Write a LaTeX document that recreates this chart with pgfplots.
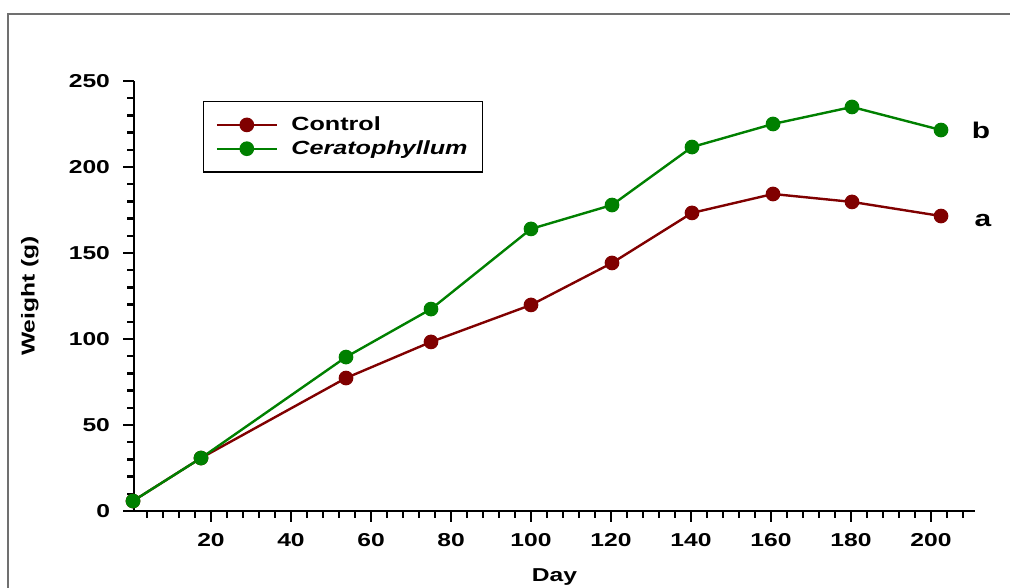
\documentclass[border=0pt]{standalone}
\usepackage{fontspec}
\setmainfont{Liberation Sans}[FakeStretch=1.32]
\usepackage{pgfplots}
\pgfplotsset{compat=1.18}
\definecolor{ctrl}{RGB}{128,0,0}
\definecolor{cera}{RGB}{0,128,0}
\definecolor{frame}{RGB}{112,112,112}
\begin{document}
\begin{tikzpicture}
\useasboundingbox (0,0) rectangle (757.5pt,441pt);
\draw[frame, line width=1.5pt] (6pt,-10pt) -- (6pt,430.5pt) -- (770pt,430.5pt);
\begin{axis}[
  at={(100.5pt,57.75pt)}, anchor=south west,
  scale only axis, width=630.75pt, height=322.5pt,
  xmin=0.75, xmax=211, ymin=0, ymax=250,
  axis lines*=left,
  axis line style={line width=2pt},
  every tick/.style={black, line width=1.8pt},
  tick align=outside,
  major tick length=8pt, minor tick length=5pt,
  xtick={20,40,...,200}, ytick={0,50,...,250},
  minor xtick={4,8,...,208}, minor ytick={10,20,...,240},
  /pgf/number format/assume math mode=true,
  tick label style={font=\fontsize{14}{16}\selectfont\bfseries},
  xticklabel style={yshift=-5pt},
  yticklabel style={xshift=-6.5pt},
  label style={font=\fontsize{14}{16}\selectfont\bfseries},
  xlabel={Day}, ylabel={Weight (g)},
  xlabel style={at={(axis description cs:0.5,-0.1535)}, anchor=center},
  ylabel style={at={(axis description cs:-0.1237,0.5)}, anchor=center},
  clip=false,
  legend style={at={(axis description cs:0.082,0.9535)}, anchor=north west,
    draw=black, line width=1pt, font=\fontsize{14.3}{16}\selectfont\bfseries,
    inner xsep=9pt, inner ysep=9.5pt, row sep=2pt, column sep=8pt},
  legend cell align=left,
  legend image code/.code={\draw[mark repeat=2,mark phase=2] plot coordinates {(0pt,0pt)(22.5pt,0pt)(45pt,0pt)};},
]
\addplot[ctrl, line width=1.8pt, mark=*, mark size=4.6pt, mark options={solid}] coordinates {
(0.5,5.8) (17.5,30.8) (53.75,77.3) (75,98.3) (100,119.8) (120.25,144.2) (140.25,173.3) (160.5,184.3) (180.25,179.7) (202.5,171.5)};
\addlegendentry{Control}
\addplot[cera, line width=1.8pt, mark=*, mark size=4.6pt, mark options={solid}] coordinates {
(0.5,5.8) (17.5,30.8) (53.75,89.5) (75,117.4) (100,164) (120.25,177.9) (140.25,211.6) (160.5,225) (180.25,234.9) (202.5,221.5)};
\addlegendentry{\itshape Ceratophyllum}
\node[font=\fontsize{17}{18}\selectfont\bfseries] at (axis cs:212.5,221.5) {b};
\node[font=\fontsize{17}{18}\selectfont\bfseries] at (axis cs:213,169) {a};
\end{axis}
\end{tikzpicture}
\end{document}
